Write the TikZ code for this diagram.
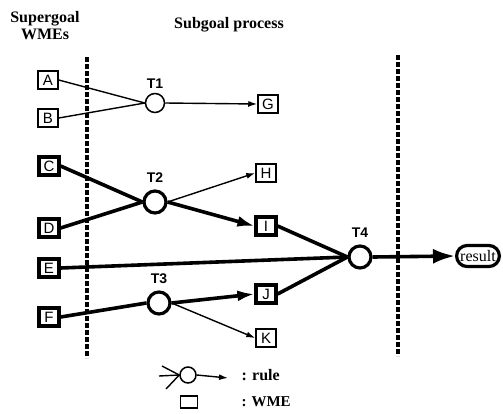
\documentclass[tikz,border=0pt]{standalone}
\usepackage{fontspec}
\setmainfont{Liberation Serif}
\setsansfont{Liberation Sans}
\usetikzlibrary{arrows.meta, positioning, shapes.misc}

\begin{document}
\begin{tikzpicture}[x=1pt, y=-1pt]
    % Define styles
    \tikzstyle{wme} = [rectangle, draw, line width=1.5pt, minimum width=20pt, minimum height=18pt, inner sep=0pt, font=\sffamily\fontsize{15}{15}\selectfont]
    \tikzstyle{wmebold} = [wme, line width=3.2pt]
    \tikzstyle{rulenode} = [circle, draw, line width=1.5pt, minimum size=19pt, inner sep=0pt]
    \tikzstyle{rulebold} = [rulenode, line width=3.2pt, minimum size=22pt]
    \tikzstyle{thinline} = [draw, line width=1.4pt]
    \tikzstyle{thickline} = [draw, line width=3.6pt]
    \tikzstyle{thinarrow} = [thinline, -{Latex[length=9pt, width=6pt]}]
    \tikzstyle{thickarrow} = [thickline, -{Latex[length=17pt, width=11pt]}]
    \tikzstyle{barrier} = [draw, line width=3.4pt, dash pattern=on 5pt off 2pt]
    \tikzstyle{rlabel} = [font=\sffamily\bfseries\fontsize{14}{14}\selectfont]
    \tikzstyle{title} = [font=\bfseries\fontsize{16}{17}\selectfont, align=center]

    \useasboundingbox (0,0) rectangle (503,413);

    % Titles
    \node[title] (super) at (45,26) {Supergoal\\WMEs};
    \node[title] (sub) at (229,25) {Subgoal process};

    % Barriers
    \draw[barrier] (87,57) -- (87,358);
    \draw[barrier] (398,55) -- (398,356);

    % Supergoal WMEs
    \node[wme] (A) at (48,80) {A};
    \node[wme] (B) at (48,118) {B};
    \node[wmebold] (C) at (49,166) {C};
    \node[wmebold] (D) at (49,228) {D};
    \node[wmebold] (E) at (49,268) {E};
    \node[wmebold] (F) at (49,317) {F};

    % Rules
    \node[rulenode] (T1) at (155,103) {};
    \node[rlabel, above=1pt of T1] {T1};
    \node[rulebold] (T2) at (155,202) {};
    \node[rlabel, above=3pt of T2] {T2};
    \node[rulebold] (T3) at (159,303) {};
    \node[rlabel, above=3pt of T3] {T3};
    \node[rulebold] (T4) at (360,257) {};
    \node[rlabel, above=3pt of T4] {T4};

    % Subgoal WMEs
    \node[wme] (G) at (268,104) {G};
    \node[wme] (H) at (266,173) {H};
    \node[wmebold] (I) at (266,226) {I};
    \node[wmebold] (J) at (266,294) {J};
    \node[wme] (K) at (266,338) {K};

    % Result
    \node[rounded rectangle, draw, line width=3.2pt, minimum height=21pt, inner xsep=2pt, inner ysep=0pt, font=\fontsize{16}{16}\selectfont] (res) at (478,256) {result};

    % Connections
    \draw[thinline] (A.east) -- (T1.west);
    \draw[thinline] (B.east) -- (T1.west);
    \draw[thinarrow] (T1.east) -- (G.west);

    \draw[thickline] (C.east) -- (T2.west);
    \draw[thickline] (D.east) -- (T2.west);
    \draw[thinarrow] (T2.east) -- (H.west);
    \draw[thickarrow] (T2.east) -- (I.west);

    \draw[thickline] (F.east) -- (T3.west);
    \draw[thickarrow] (T3.east) -- (J.west);
    \draw[thinarrow] (T3.east) -- (K.west);

    \draw[thickline] (E.east) -- (T4.west);
    \draw[thickline] (I.east) -- (T4.west);
    \draw[thickline] (J.east) -- (T4.west);
    \draw[thickline, -{Latex[length=22pt, width=15pt]}] (T4.east) -- (res.west);

    % Legend
    \node[rulenode, minimum size=16pt] (LR) at (188,375) {};
    \coordinate (in1) at (162,366);
    \coordinate (in2) at (159,376);
    \coordinate (in3) at (166,389);
    \coordinate (out) at (228,378);
    \draw[thinline] (in1) -- (LR.west);
    \draw[thinline] (in2) -- (LR.west);
    \draw[thinline] (in3) -- (LR.west);
    \draw[thinarrow] (LR.east) -- (out);
    \node[anchor=west, font=\bfseries\fontsize{16}{16}\selectfont] (lrule) at (238,375) {: rule};
    \node[draw, line width=1.8pt, minimum width=17pt, minimum height=12pt, inner sep=0pt] (LW) at (189,402) {};
    \node[anchor=west, font=\bfseries\fontsize{15}{15}\selectfont] (lwme) at (238,402) {: WME};
\end{tikzpicture}
\end{document}
